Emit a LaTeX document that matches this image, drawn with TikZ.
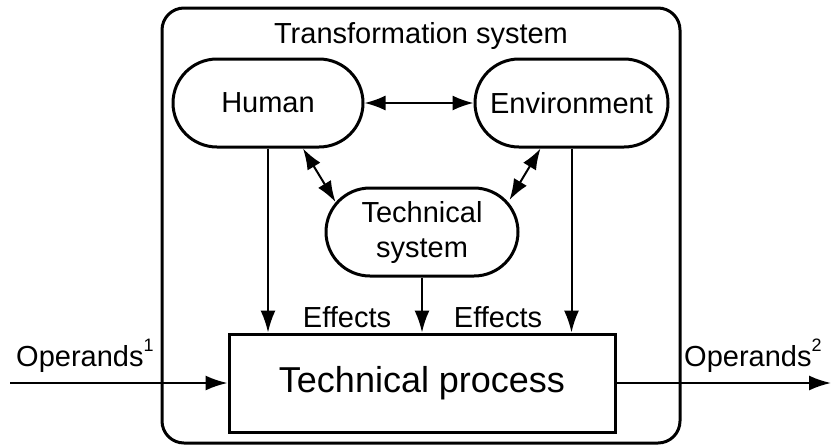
\documentclass[tikz,border=0pt]{standalone}
\usepackage{fontspec}
\setmainfont{Liberation Sans}
\usetikzlibrary{arrows.meta,calc}
\begin{document}
\begin{tikzpicture}[x=1pt,y=-1pt,
  lbl/.style={font=\fontsize{29}{35}\selectfont, inner sep=0pt},
  rbox/.style={draw, line width=3pt, rounded corners=44pt, minimum height=88pt, inner sep=0pt, align=center, font=\fontsize{29}{35}\selectfont},
  arr/.style={line width=2pt, -{Latex[length=22pt,width=15pt]}},
  darr/.style={line width=2pt, {Latex[length=21pt,width=15pt]}-{Latex[length=21pt,width=15pt]}}]
\useasboundingbox (0,0) rectangle (832,445);
% outer system
\node[draw, line width=3pt, rounded corners=22pt, minimum width=518pt, minimum height=435pt, inner sep=0pt] (outer) at (421,225.5) {};
\node[lbl, anchor=base] (title) at (421,43) {Transformation system};
% elements
\node[rbox, minimum width=190pt] (human) at (268,103) {Human};
\node[rbox, minimum width=193pt] (env) at (571.5,103) {Environment};
\node[rbox, minimum width=192pt] (tech) at (422,232) {Technical\\system};
\node[draw, line width=3pt, minimum width=386pt, minimum height=98pt, inner sep=0pt, font=\fontsize{36}{40}\selectfont] (proc) at (422,383) {Technical process};
% interactions
\draw[darr] (human.east) -- (env.west);
\draw[darr] ($(human.south)+(35,0)$) -- ($(tech.west)+(11,-30)$);
\draw[darr] ($(env.south)+(-31,0)$) -- ($(tech.east)+(-10,-32)$);
% effects
\draw[arr] (human.south) -- (human.south |- proc.north);
\draw[arr] (tech.south) -- (tech.south |- proc.north);
\draw[arr] (env.south) -- (env.south |- proc.north);
\node[lbl, anchor=base] (eff1) at (347,327) {Effects};
\node[lbl, anchor=base] (eff2) at (498,327) {Effects};
% operands
\coordinate (in) at (10,383);
\coordinate (out) at (831,383);
\draw[arr] (in) -- (proc.west);
\draw[arr] (proc.east) -- (out);
\node[lbl, anchor=base west] (op1) at (16,366) {Operands\raisebox{15pt}{\fontsize{18}{18}\selectfont 1}};
\node[lbl, anchor=base west] (op2) at (684,366) {Operands\raisebox{15pt}{\fontsize{18}{18}\selectfont 2}};
\end{tikzpicture}
\end{document}
